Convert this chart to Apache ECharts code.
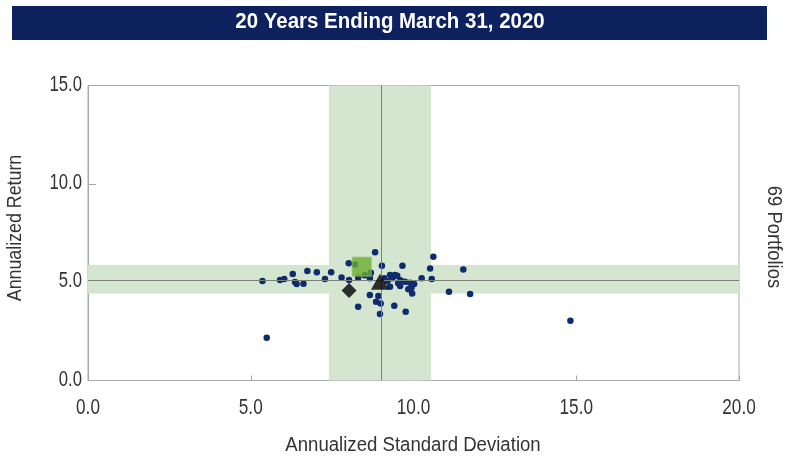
<!DOCTYPE html>
<html><head><meta charset="utf-8">
<script src="https://cdn.jsdelivr.net/npm/echarts@6/dist/echarts.min.js"></script>
<style>html,body{margin:0;padding:0;background:#fff}#c{width:785px;height:458px}</style>
</head><body><div id="c"></div>
<script>
const titleText = "20 Years Ending March 31, 2020";
const xName = "Annualized Standard Deviation";
const yName = "Annualized Return";
const sideText = "69 Portfolios";
const xTicks = [0, 5, 10, 15, 20];
const yTicks = [0, 5, 10, 15];
const portfolios = [
  [5.36,5.06],[5.90,5.11],[6.03,5.16],[6.29,5.41],[6.36,5.01],[6.41,4.91],[6.62,4.92],
  [6.74,5.57],[7.03,5.50],[7.28,5.16],[7.47,5.50],[7.79,5.24],[8.01,5.96],[8.02,5.11],
  [8.30,5.23],[8.69,5.48],[8.66,5.20],[8.82,6.52],[9.03,5.84],[9.28,5.36],[9.43,5.36],
  [9.53,4.94],[8.66,4.35],[8.92,4.30],[8.85,4.01],[8.99,3.92],[8.30,3.75],[9.41,3.80],
  [8.97,3.38],[10.61,6.29],[9.66,5.84],[10.51,5.70],[11.53,5.65],[10.25,5.20],[10.56,5.16],
  [9.50,5.33],[9.74,5.02],[9.89,4.97],[10.02,4.91],[9.59,4.80],[9.84,4.64],[9.94,4.72],
  [9.96,4.43],[9.28,4.77],[11.09,4.51],[11.74,4.40],[5.49,2.18],[14.82,3.04],[9.76,3.50],
  [9.10,5.20],[9.20,5.05],[9.35,5.20],[8.50,5.35],[9.60,5.10],[8.20,5.90]
];
const squarePt = [[8.41, 5.79]];
const trianglePt = [[8.97, 5.02]];
const diamondPt = [[8.02, 4.57]];
const bandX = [7.40, 10.54];
const bandY = [4.43, 5.87];
const medianX = 9.0;
const medianY = 5.11;

const chart = echarts.init(document.getElementById('c'));
const font = "'Liberation Sans', Arial, sans-serif";
chart.setOption({
  animation: false,
  grid: {left: 88, right: 46, top: 85.5, bottom: 77.5, show: true, borderColor: '#a8a8a8', borderWidth: 1, backgroundColor: 'transparent'},
  xAxis: {
    type: 'value', min: xTicks[0], max: xTicks[xTicks.length-1], interval: 5,
    axisLine: {show: true, lineStyle: {color: '#a8a8a8'}},
    axisTick: {show: true, inside: true, length: 5, lineStyle: {color: '#a8a8a8'}},
    splitLine: {show: false},
    axisLabel: {show: false}
  },
  yAxis: {
    type: 'value', min: yTicks[0], max: yTicks[yTicks.length-1], interval: 5,
    axisLine: {show: true, lineStyle: {color: '#a8a8a8'}},
    axisTick: {show: true, inside: true, length: 8, lineStyle: {color: '#a8a8a8'}},
    splitLine: {show: false},
    axisLabel: {show: false}
  },
  series: [
    {
      type: 'scatter', data: [], silent: true, z: 1,
      markArea: {silent: true, itemStyle: {color: '#d4e6cf', opacity: 1}, data: [
        [{xAxis: bandX[0]}, {xAxis: bandX[1]}],
        [{yAxis: bandY[0]}, {yAxis: bandY[1]}]
      ]},
      markLine: {silent: true, symbol: 'none', label: {show: false}, lineStyle: {color: '#7a7f7a', type: 'solid', width: 1}, data: [
        {xAxis: medianX}, {yAxis: medianY}
      ]}
    },
    {type: 'scatter', data: portfolios, symbol: 'circle', symbolSize: 6.5, itemStyle: {color: '#0d2b6e', opacity: 1}, z: 3},
    {type: 'scatter', data: diamondPt, symbol: 'diamond', symbolSize: [15, 15], itemStyle: {color: '#000'}, z: 4},
    {type: 'scatter', data: trianglePt, symbol: 'triangle', symbolSize: [18, 16], itemStyle: {color: '#000'}, z: 6},
    {type: 'scatter', data: squarePt, symbol: 'rect', symbolSize: 19, itemStyle: {color: '#6aae2e', borderColor: '#94c16a', borderWidth: 1}, z: 5}
  ]
});

const g = [
  {type: 'rect', shape: {x: 12, y: 6, width: 755, height: 34}, style: {fill: '#0c215e'}, z: 100},
  {type: 'text', x: 390, y: 22, scaleX: 0.93, style: {text: titleText, fill: '#fff', font: "bold 22px " + font, textAlign: 'center', textVerticalAlign: 'middle'}, z: 101},
  {type: 'text', x: 15, y: 228, rotation: Math.PI/2, scaleX: 0.89, style: {text: yName, fill: '#333', font: "20px " + font, textAlign: 'center', textVerticalAlign: 'middle'}},
  {type: 'text', x: 413, y: 445, scaleX: 0.93, style: {text: xName, fill: '#333', font: "20px " + font, textAlign: 'center', textVerticalAlign: 'middle'}},
  {type: 'text', x: 774, y: 237, rotation: -Math.PI/2, scaleX: 0.92, style: {text: sideText, fill: '#333', font: "20px " + font, textAlign: 'center', textVerticalAlign: 'middle'}}
];
xTicks.forEach(v => {
  const p = chart.convertToPixel({xAxisIndex: 0, yAxisIndex: 0}, [v, yTicks[0]]);
  g.push({type: 'text', x: p[0], y: p[1] + 27, scaleX: 0.78, style: {text: v.toFixed(1), fill: '#333', font: "22px " + font, textAlign: 'center', textVerticalAlign: 'middle'}});
});
yTicks.forEach(v => {
  const p = chart.convertToPixel({xAxisIndex: 0, yAxisIndex: 0}, [xTicks[0], v]);
  g.push({type: 'text', x: p[0] - 6, y: p[1] - 1, scaleX: 0.76, style: {text: v.toFixed(1), fill: '#333', font: "22px " + font, textAlign: 'right', textVerticalAlign: 'middle'}});
});
chart.setOption({graphic: g});
</script></body></html>
